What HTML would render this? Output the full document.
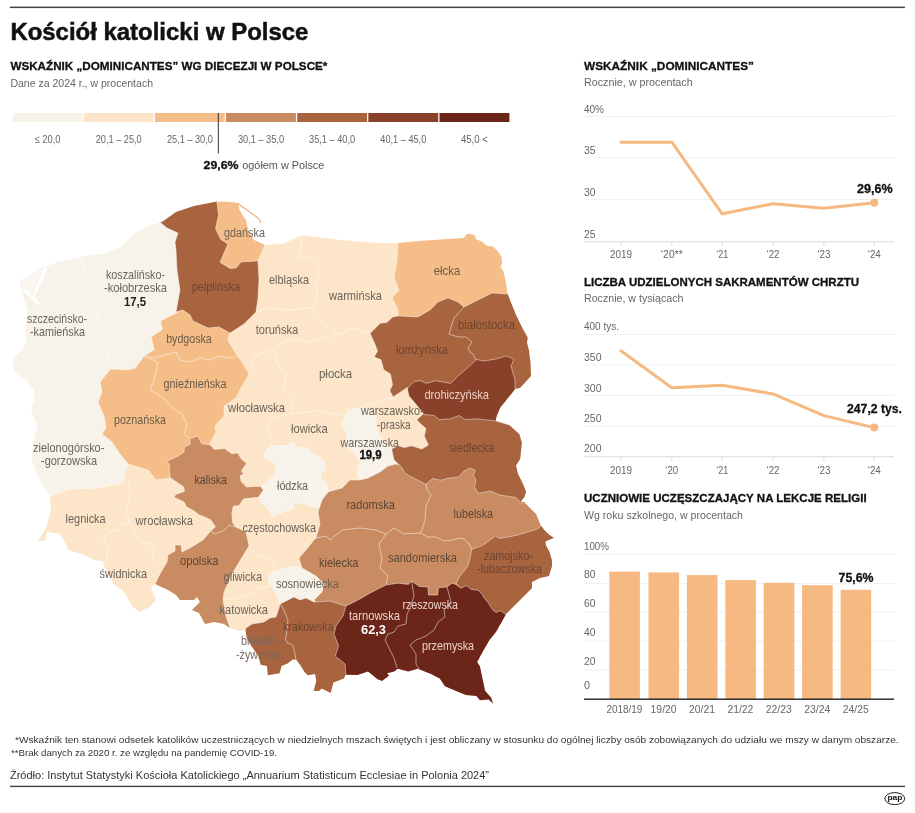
<!DOCTYPE html>
<html lang="pl"><head><meta charset="utf-8"><title>Kościół katolicki w Polsce</title>
<style>html,body{margin:0;padding:0;background:#fff}svg{display:block}text{font-family:"Liberation Sans",sans-serif}.b{font-weight:bold}</style>
</head><body>
<svg width="915" height="813" viewBox="0 0 915 813">
<rect width="915" height="813" fill="#fff"/>
<rect x="10" y="6.6" width="895" height="1.5" fill="#444"/>
<text x="10.4" y="40.2" font-size="23.4" fill="#111" class="b" stroke="#111" stroke-width="0.5" textLength="298" lengthAdjust="spacingAndGlyphs">Kościół katolicki w Polsce</text>
<text x="10.4" y="70" font-size="11.8" fill="#111" class="b" stroke="#111" stroke-width="0.3" textLength="317" lengthAdjust="spacingAndGlyphs">WSKAŹNIK „DOMINICANTES” WG DIECEZJI W POLSCE*</text>
<text x="10.4" y="86.8" font-size="11.3" fill="#666" textLength="142.6" lengthAdjust="spacingAndGlyphs">Dane za 2024 r., w procentach</text>
<rect x="12.6" y="113" width="69.9" height="9" fill="#f7f3ea"/>
<text x="47.6" y="143" font-size="11" fill="#666" text-anchor="middle" textLength="26" lengthAdjust="spacingAndGlyphs">≤ 20,0</text>
<rect x="83.7" y="113" width="69.9" height="9" fill="#fde5c9"/>
<text x="118.7" y="143" font-size="11" fill="#666" text-anchor="middle" textLength="46" lengthAdjust="spacingAndGlyphs">20,1 – 25,0</text>
<rect x="154.9" y="113" width="69.9" height="9" fill="#f5be88"/>
<text x="189.9" y="143" font-size="11" fill="#666" text-anchor="middle" textLength="46" lengthAdjust="spacingAndGlyphs">25,1 – 30,0</text>
<rect x="226.0" y="113" width="69.9" height="9" fill="#c98b61"/>
<text x="261.0" y="143" font-size="11" fill="#666" text-anchor="middle" textLength="46" lengthAdjust="spacingAndGlyphs">30,1 – 35,0</text>
<rect x="297.2" y="113" width="69.9" height="9" fill="#a8633f"/>
<text x="332.1" y="143" font-size="11" fill="#666" text-anchor="middle" textLength="46" lengthAdjust="spacingAndGlyphs">35,1 – 40,0</text>
<rect x="368.3" y="113" width="69.9" height="9" fill="#8a412a"/>
<text x="403.3" y="143" font-size="11" fill="#666" text-anchor="middle" textLength="46" lengthAdjust="spacingAndGlyphs">40,1 – 45,0</text>
<rect x="439.5" y="113" width="69.9" height="9" fill="#6b2619"/>
<text x="474.4" y="143" font-size="11" fill="#666" text-anchor="middle" textLength="27" lengthAdjust="spacingAndGlyphs">45,0 &lt;</text>
<rect x="217.8" y="113" width="1" height="40.5" fill="#333"/>
<text x="203.6" y="168.8" font-size="11.8" fill="#111" class="b" stroke="#111" stroke-width="0.3" textLength="35" lengthAdjust="spacingAndGlyphs">29,6%</text>
<text x="242.3" y="168.8" font-size="11.5" fill="#555" textLength="82" lengthAdjust="spacingAndGlyphs">ogółem w Polsce</text>
<defs><clipPath id="pl"><polygon points="20,281 28,276 38,270 58,262 82,257 104,254 120,248 132,236 146,227 162,222 176,212 194,206 216,201.8 228,201.8 238,203 239.4,209.4 242,214.7 246,220 248,230 254,240 265,245 284,243.5 293,239.6 302,235.3 340,240 380,243 398,243 420,241 464,238 466,234.7 469.3,233.4 474.6,235.3 476,239.3 482.5,241.9 486.4,245.8 493,246.5 498.2,251.7 501.5,257 502,262.2 500.8,267.5 503.4,271.4 506,283.2 507.5,293.5 510.7,302 516,315 522.5,328.3 527.7,337.5 527,342.7 529,350.6 530.5,363 531,376 520,388 515,389 508,398 500,408 496.5,416.3 495.5,421 509.6,425.3 519.4,434.3 521.9,442.5 520.2,459 516,465.5 517.8,473.7 522.7,483.5 526,491.7 524.3,497 520.5,501.8 524.3,502.3 529.5,507.5 536,514 538.7,520.6 540.7,525.2 544,529.8 549.2,535 553.8,537.7 549.2,539.7 545.2,541.6 545.9,545.6 549.2,551.5 551.8,560 552,566 549,576 540,578 532,582 532,588 520,600 506,614 496,632 489.5,640 483.4,650.5 477.2,661.9 479.9,666.2 482.5,678.5 485.1,690.7 491.2,697.7 493,703.8 488.6,699.4 479.9,700.3 476.4,696 465.9,695 455.4,690.7 444.9,686.3 439.7,678.5 431,674 417.8,668.8 408.2,671.5 397.7,668.8 394.2,671.5 387.2,673.2 389,675.8 382,681 377.6,679.3 368,671.5 357.5,675 345.8,674.6 343.9,678.5 333.4,682.5 330.7,693 321.6,688.4 319,691 313.7,691 316.3,681 315,674 307.8,675.2 304.5,672 300.6,665.4 296,659.5 292.7,659.5 287.5,663.4 281.6,666 279.6,673.3 267.8,675.2 267,666 260.6,664.8 258.6,656.2 252,647 246.8,637.9 245.5,630 240,631 230,628 224,624 214,622 205,624 199,613 192,610 200,602 197,597 194,600 180,600 176,595 168,590 155,584 151,586 153,594 156,600 150,607 139,612 132,606 124,592 114,584 104,566 103,561 94,560 82,554 68,550 66,544 60,534 47,532 45,541 38,541 46,528 51,510 50,496 40,481 36,470 32,460 34,440 38,424 35,420 31.5,410 34,401 35,391 26,380 15,371 12.5,359 23,349 27,340 26,330 28,310 23,294"/></clipPath></defs>
<g clip-path="url(#pl)">
<rect x="0" y="190" width="570" height="530" fill="#fde5c9"/>
<polygon points="0,200 200,200 200,330 170,345 150,400 150,440 128,464 124,474 124,482 100,488 70,489 50,496 0,500" fill="#f7f3ea" stroke="#fff" stroke-width="1" stroke-opacity="0.45"/>
<polygon points="263.3,456.6 266.6,448.8 272.1,445.5 286.5,445.5 292.1,442.2 298.7,447.7 307.6,447.7 310.9,453.3 318.7,455.9 324.2,461 325.3,467.7 320.9,474.3 320.9,478.7 326.4,484.3 328.6,490.9 335,497 322,499 318.7,507.5 312,506.4 300.9,503.1 294.3,502 293.2,508.6 284.3,512 275.5,514.2 272.1,517.5 271,512 265.5,506.4 260,500.9 258.9,497.6 263.3,489.8 261,486.5 266.6,482 273.3,476.5 275.5,471 276,464.3 270,461" fill="#f7f3ea" stroke="#fff" stroke-width="1" stroke-opacity="0.45"/>
<polygon points="348,410 360,408 370,410 376,416 376,428 380,436 388,446 392,449 400,455 400,470 380,480 368,478 360,480 357,472 360,462 354,452 346,446 347,434 342,424 346,414" fill="#f7f3ea" stroke="#fff" stroke-width="1" stroke-opacity="0.45"/>
<polygon points="268,576 272,572 278,570 286,568 294,566 302,568 316,576 330,580 330,610 280,612 280,604 276,594 270,584" fill="#f7f3ea" stroke="#fff" stroke-width="1" stroke-opacity="0.45"/>
<polygon points="210,195 270,195 265,245 261,254 258,261 250,275 210,275" fill="#f5be88" stroke="#fff" stroke-width="1" stroke-opacity="0.45"/>
<polygon points="200,300 178,312 160.6,321 162.3,329.7 151,336.7 154.4,349.8 144,356 135.2,368.2 128,370 110.7,369 100,382 102,392 98,402 104,416 106,428 102,434 112,442 120,454 128,464 148,470 156,480 170,478 190,470 205,455 210,443 216,432 215,426 224,416 224,406 236,398 240,390 249,374 242,362 236,354 228,340 230,333 235,320" fill="#f5be88" stroke="#fff" stroke-width="1" stroke-opacity="0.45"/>
<polygon points="398,225 520,225 520,320 398,320 398,316 398,310 392,298 399,290 394,278 397,260 398,243" fill="#f5be88" stroke="#fff" stroke-width="1" stroke-opacity="0.45"/>
<polygon points="189.7,439 197.8,436 201.5,443.5 210.4,445 214,449.4 224.4,448.6 231.8,453.8 237.7,453 241.3,459 246.5,463.4 241.3,470.8 243.6,473.7 239.9,476 241.3,481.8 246.5,487 260.5,486.3 263.5,490 258.3,497.3 243.6,498.8 239.1,505.4 233.2,506.2 231.8,513.6 232.5,522.4 235.4,526.8 246,532 249,546 244,554 232,574 224,592 223,600 226,616 230,628 230,645 165,645 165,600 155,584 160,574 167,562 168,555 175,551 175,545 181,545 182,552 190,548 203,540 210.4,531.3 215.5,526.8 210.4,519.5 203.7,516.5 199.3,515 193.4,510.6 186.7,507 183.8,501.8 174.2,497.3 175.7,494.4 184.5,491.4 183.8,487 170.5,478 169,469.3 169.8,464.9 166.8,461.2 177,456.7 183.8,452.3 184.5,447 190.4,444.2" fill="#c98b61" stroke="#fff" stroke-width="1" stroke-opacity="0.45"/>
<polygon points="322,500 328,492 342,488 350,480 360,480 368,478 380,472 388,466 396,464 400,465 405,455 500,455 560,500 560,560 480,620 330,620 314,600 322,592 324,584 316,576 302,568 299,558 306,550 314,540 316,538 320,524 318,512" fill="#c98b61" stroke="#fff" stroke-width="1" stroke-opacity="0.45"/>
<polygon points="155,218 176,205 216,195 218.6,215 215.5,228.7 220.9,239.4 227.8,244 224.7,251.6 220,262.3 230,268.4 236,268 241,262 258,261 259,280 258,298 256,312 244,324 230,333 219,327 208,328 193,321 190,315 183,310 176,312 180,290 177,270 176,250 175,242 178,233 167,228" fill="#a8633f" stroke="#fff" stroke-width="1" stroke-opacity="0.45"/>
<polygon points="398,316 418,317 430,310 438,302 448,298 458,302 464,307 474,302 480,299 492,293 508,294 545,300 545,395 515,395 440,400 407.4,387.4 393.2,396.9 389.8,390.8 392.5,384.7 390.4,373.9 383.7,369.8 381,359.7 374.2,357 377.6,350.9 374.9,344.1 370.1,333.3 380.3,323.2 387,322.5 392.5,317" fill="#a8633f" stroke="#fff" stroke-width="1" stroke-opacity="0.45"/>
<polygon points="417,419.6 430,408 500,408 545,420 545,502 521,503.2 516,497.5 499.8,495 490,491 478.4,493.4 474.3,486.8 476,480.2 473.5,475.3 475.2,470.4 470.2,468 463.7,471.2 458.8,477 450.6,477.8 440.7,480.2 432.5,478.6 426,484.3 417.8,480.2 409.6,476 404.7,472.9 401.4,467 397.3,463 394,459.8 391.6,449 398,445.8 404.7,447.5 411.2,445.8 421.9,449 428.4,445 424.3,436 426,428.6 418.6,422" fill="#a8633f" stroke="#fff" stroke-width="1" stroke-opacity="0.45"/>
<polygon points="472,549 482.3,545.6 490,540.3 495.4,535.9 499.3,538.4 508.5,537 517.7,535 528.2,531.8 537.4,529 540.7,526 565,525 565,590 520,615 500,625 470,600 456,583 460,576 468,566 470,558" fill="#a8633f" stroke="#fff" stroke-width="1" stroke-opacity="0.45"/>
<polygon points="246,628 252,624 264,622 270,618 276,617 279,608 280,604 294,597 300,600 306,598 314,602 330,601 346,606 358,610 358,700 238,700 238,640 244,632" fill="#a8633f" stroke="#fff" stroke-width="1" stroke-opacity="0.45"/>
<polygon points="407.4,388.5 414.1,381.3 420.9,380.7 426.3,383.4 435.8,380.7 450.7,383.4 457.4,376.6 468.3,367.1 476.4,359.5 484,361 496,359 506,356 514,359 511,366 515,380 515,389 520,395 510,425 495.5,421 476.8,418.8 465.3,419.6 458.8,415.5 450.6,418.8 439,419.6 434.2,415.5 424,414.5 417.8,406.5 409,396" fill="#8a412a" stroke="#fff" stroke-width="1" stroke-opacity="0.45"/>
<polygon points="346,606 358,600 372,592 386,585 398.4,583.2 408.5,584.4 411.5,581 419.3,586.4 428,587 428.5,595 437.7,595 438.4,587.7 447,587 452,583.2 456,584.5 461,588.2 466.2,585.6 471.5,589.5 478,590.2 482,594 483.3,596.7 488.5,603.3 492.5,609.8 496.4,612.5 500.3,610.5 505.6,614.4 525,618 505,715 340,695 345.8,674.6 345.2,664 335.3,656.2 338.6,645.7 334,634 336,626 343,616" fill="#6b2619" stroke="#fff" stroke-width="1" stroke-opacity="0.45"/>
<polyline points="82,257 85,274 92,286 100,302 96,318 100,331 108,335 110,349 107,363 110,369" fill="none" stroke="#fff" stroke-width="1" stroke-opacity="0.5"/>
<polyline points="34,388 45,379 49,371 68,364 73,358 89,355 107,361" fill="none" stroke="#fff" stroke-width="1" stroke-opacity="0.5"/>
<polyline points="302,236 300,258 314,258 320,270 316,284 318,298 312,308" fill="none" stroke="#fff" stroke-width="1" stroke-opacity="0.5"/>
<polyline points="256,312 270,308 290,310 312,308" fill="none" stroke="#fff" stroke-width="1" stroke-opacity="0.5"/>
<polyline points="312,308 318,316 324,324 338,334 354,328 370,333" fill="none" stroke="#fff" stroke-width="1" stroke-opacity="0.5"/>
<polyline points="338,334 310,342 296,339 284,341 273,350 256,356 249,372" fill="none" stroke="#fff" stroke-width="1" stroke-opacity="0.5"/>
<polyline points="273,350 278,366 286,374 284,390 294,400 290,414 272,418 268,428 272,440 272,446" fill="none" stroke="#fff" stroke-width="1" stroke-opacity="0.5"/>
<polyline points="290,414 310,412 320,410 332,414 346,414" fill="none" stroke="#fff" stroke-width="1" stroke-opacity="0.5"/>
<polyline points="394,397 376,402 360,408" fill="none" stroke="#fff" stroke-width="1" stroke-opacity="0.5"/>
<polyline points="128,482 130,494 126,510 130,522 122,524 118,530 108,532 103,540 108,550 106,562" fill="none" stroke="#fff" stroke-width="1" stroke-opacity="0.5"/>
<polyline points="130,522 136,536 140,542 150,544 154,550 152,558 160,564" fill="none" stroke="#fff" stroke-width="1" stroke-opacity="0.5"/>
<polyline points="249,548 256,554 266,558 274,562 274,570" fill="none" stroke="#fff" stroke-width="1" stroke-opacity="0.5"/>
<polyline points="223,600 238,598 254,592 260,588 270,586" fill="none" stroke="#fff" stroke-width="1" stroke-opacity="0.5"/>
<polyline points="210.4,531.3 215.5,534.2 219.9,532 224.4,530.5 228.8,525.4 235.4,526.8" fill="none" stroke="#fff" stroke-width="1" stroke-opacity="0.5"/>
<polyline points="144,356 154,358 176,352 180,360 190,362 200,358 210,360 218,356 230,358 238,356" fill="none" stroke="#fff" stroke-width="1" stroke-opacity="0.5"/>
<polyline points="144,356 158,362 154,380 150,390 164,398 172,408 182,414 187,424 184,434 190,438" fill="none" stroke="#fff" stroke-width="1" stroke-opacity="0.5"/>
<polyline points="464,307 454,318 449,334 458,337 466,337 472,342 468,348 470,352 473,354 476,360" fill="none" stroke="#fff" stroke-width="1" stroke-opacity="0.5"/>
<polyline points="316,538 326,536 330,540 342,530 360,528 376,530 386,534" fill="none" stroke="#fff" stroke-width="1" stroke-opacity="0.5"/>
<polyline points="426,484.3 427,490 431,495 426,506 425,520 422,530 420,533" fill="none" stroke="#fff" stroke-width="1" stroke-opacity="0.5"/>
<polyline points="386,534 394,528 404,534 420,533 428,537 436,537 444,541 452,540 460,538 464,539 468,543 472,549" fill="none" stroke="#fff" stroke-width="1" stroke-opacity="0.5"/>
<polyline points="386,534 379,544 382,560 380,568 388,576 386,584" fill="none" stroke="#fff" stroke-width="1" stroke-opacity="0.5"/>
<polyline points="280,604 282,606 288,620 286.8,632 285.5,639.2 287.5,643 292.7,645 294.7,652.3 296,659.5" fill="none" stroke="#fff" stroke-width="1" stroke-opacity="0.5"/>
<polyline points="411.5,581 414,596 410,608 407,614 406,624 398,626 394,632 388,634 385,640 390,650 394,658 397,668" fill="none" stroke="#fff" stroke-width="1" stroke-opacity="0.5"/>
<polyline points="447,587 451,602 444,610 445,617 438,622 434,630 426,636 416,640 410,645 416,654 416,664 419,669" fill="none" stroke="#fff" stroke-width="1" stroke-opacity="0.5"/>
</g>
<polyline points="46,268 40,281 34,295" fill="none" stroke="#fff" stroke-width="3"/>
<polyline points="24,290 32,297 39,304" fill="none" stroke="#fff" stroke-width="3"/>
<polygon points="20,281 28,276 38,270 45,268 36,284 31,294 25,289" fill="#fff" fill-opacity="0.35"/>
<polyline points="238,203.6 247,210 256,216.6 259.5,219.6 260.5,222.5" fill="none" stroke="#eeb47f" stroke-width="1.3" stroke-linecap="round"/>
<text x="135.5" y="278.7" font-size="12.2" fill="#6b6459" text-anchor="middle" textLength="59" lengthAdjust="spacingAndGlyphs">koszalińsko-</text>
<text x="135.5" y="292.3" font-size="12.2" fill="#6b6459" text-anchor="middle" textLength="63" lengthAdjust="spacingAndGlyphs">-kołobrzeska</text>
<text x="135" y="306.3" font-size="12.2" fill="#222" class="b" text-anchor="middle" textLength="22" lengthAdjust="spacingAndGlyphs">17,5</text>
<text x="57" y="322.7" font-size="12.2" fill="#6b6459" text-anchor="middle" textLength="60" lengthAdjust="spacingAndGlyphs">szczecińsko-</text>
<text x="57.5" y="336.3" font-size="12.2" fill="#6b6459" text-anchor="middle" textLength="55" lengthAdjust="spacingAndGlyphs">-kamieńska</text>
<text x="244.5" y="236.7" font-size="12.2" fill="#6b6459" text-anchor="middle" textLength="41" lengthAdjust="spacingAndGlyphs">gdańska</text>
<text x="216" y="290.7" font-size="12.2" fill="#6e4631" text-anchor="middle" textLength="48.4" lengthAdjust="spacingAndGlyphs">pelplińska</text>
<text x="289" y="284.3" font-size="12.2" fill="#6b6459" text-anchor="middle" textLength="40" lengthAdjust="spacingAndGlyphs">elbląska</text>
<text x="277" y="334.3" font-size="12.2" fill="#6b6459" text-anchor="middle" textLength="42.4" lengthAdjust="spacingAndGlyphs">toruńska</text>
<text x="189" y="342.7" font-size="12.2" fill="#6b5a48" text-anchor="middle" textLength="45.6" lengthAdjust="spacingAndGlyphs">bydgoska</text>
<text x="355.5" y="299.7" font-size="12.2" fill="#6b6459" text-anchor="middle" textLength="53" lengthAdjust="spacingAndGlyphs">warmińska</text>
<text x="447" y="275.3" font-size="12.2" fill="#6b5a48" text-anchor="middle" textLength="26.4" lengthAdjust="spacingAndGlyphs">ełcka</text>
<text x="486.5" y="328.7" font-size="12.2" fill="#6e4631" text-anchor="middle" textLength="57" lengthAdjust="spacingAndGlyphs">białostocka</text>
<text x="140" y="423.7" font-size="12.2" fill="#6b5a48" text-anchor="middle" textLength="52" lengthAdjust="spacingAndGlyphs">poznańska</text>
<text x="68.7" y="451.7" font-size="12.2" fill="#6b6459" text-anchor="middle" textLength="71.4" lengthAdjust="spacingAndGlyphs">zielonogórsko-</text>
<text x="69" y="465.1" font-size="12.2" fill="#6b6459" text-anchor="middle" textLength="56" lengthAdjust="spacingAndGlyphs">-gorzowska</text>
<text x="195" y="387.7" font-size="12.2" fill="#6b5a48" text-anchor="middle" textLength="63" lengthAdjust="spacingAndGlyphs">gnieźnieńska</text>
<text x="256.5" y="412.3" font-size="12.2" fill="#6b6459" text-anchor="middle" textLength="57" lengthAdjust="spacingAndGlyphs">włocławska</text>
<text x="309.3" y="433.3" font-size="12.2" fill="#6b6459" text-anchor="middle" textLength="36.6" lengthAdjust="spacingAndGlyphs">łowicka</text>
<text x="210.7" y="483.7" font-size="12.2" fill="#5e4534" text-anchor="middle" textLength="32.6" lengthAdjust="spacingAndGlyphs">kaliska</text>
<text x="292.5" y="489.7" font-size="12.2" fill="#6b6459" text-anchor="middle" textLength="31" lengthAdjust="spacingAndGlyphs">łódzka</text>
<text x="335.5" y="378.3" font-size="12.2" fill="#6b6459" text-anchor="middle" textLength="33" lengthAdjust="spacingAndGlyphs">płocka</text>
<text x="422" y="354.3" font-size="12.2" fill="#6e4631" text-anchor="middle" textLength="52" lengthAdjust="spacingAndGlyphs">łomżyńska</text>
<text x="456.7" y="398.7" font-size="12.2" fill="#e8cfc3" text-anchor="middle" textLength="64.6" lengthAdjust="spacingAndGlyphs">drohiczyńska</text>
<text x="392.3" y="415.3" font-size="12.2" fill="#6b6459" text-anchor="middle" textLength="62.6" lengthAdjust="spacingAndGlyphs">warszawsko-</text>
<text x="393.8" y="428.7" font-size="12.2" fill="#6b6459" text-anchor="middle" textLength="33.6" lengthAdjust="spacingAndGlyphs">-praska</text>
<text x="369.8" y="446.7" font-size="12.2" fill="#6b6459" text-anchor="middle" textLength="58.4" lengthAdjust="spacingAndGlyphs">warszawska</text>
<text x="370.5" y="458.7" font-size="12.2" fill="#111" class="b" stroke="#111" stroke-width="0.3" text-anchor="middle" textLength="22.2" lengthAdjust="spacingAndGlyphs">19,9</text>
<text x="471.7" y="452.1" font-size="12.2" fill="#6e4631" text-anchor="middle" textLength="45.4" lengthAdjust="spacingAndGlyphs">siedlecka</text>
<text x="85.6" y="522.7" font-size="12.2" fill="#6b6459" text-anchor="middle" textLength="40" lengthAdjust="spacingAndGlyphs">legnicka</text>
<text x="164.3" y="525.1" font-size="12.2" fill="#6b6459" text-anchor="middle" textLength="57.4" lengthAdjust="spacingAndGlyphs">wrocławska</text>
<text x="123.3" y="577.7" font-size="12.2" fill="#6b6459" text-anchor="middle" textLength="47.4" lengthAdjust="spacingAndGlyphs">świdnicka</text>
<text x="199.3" y="564.7" font-size="12.2" fill="#5e4534" text-anchor="middle" textLength="38.6" lengthAdjust="spacingAndGlyphs">opolska</text>
<text x="279.2" y="531.7" font-size="12.2" fill="#6b6459" text-anchor="middle" textLength="73.6" lengthAdjust="spacingAndGlyphs">częstochowska</text>
<text x="242.8" y="580.7" font-size="12.2" fill="#6b6459" text-anchor="middle" textLength="38.4" lengthAdjust="spacingAndGlyphs">gliwicka</text>
<text x="243.8" y="614.3" font-size="12.2" fill="#6b6459" text-anchor="middle" textLength="48.4" lengthAdjust="spacingAndGlyphs">katowicka</text>
<text x="307.5" y="588.3" font-size="12.2" fill="#6b6459" text-anchor="middle" textLength="63" lengthAdjust="spacingAndGlyphs">sosnowiecka</text>
<text x="370.7" y="508.7" font-size="12.2" fill="#5e4534" text-anchor="middle" textLength="48.6" lengthAdjust="spacingAndGlyphs">radomska</text>
<text x="338.7" y="567.1" font-size="12.2" fill="#5e4534" text-anchor="middle" textLength="39.4" lengthAdjust="spacingAndGlyphs">kielecka</text>
<text x="422.5" y="561.7" font-size="12.2" fill="#5e4534" text-anchor="middle" textLength="69" lengthAdjust="spacingAndGlyphs">sandomierska</text>
<text x="473.3" y="518.3" font-size="12.2" fill="#5e4534" text-anchor="middle" textLength="39.4" lengthAdjust="spacingAndGlyphs">lubelska</text>
<text x="508.5" y="559.7" font-size="12.2" fill="#6e4631" text-anchor="middle" textLength="49" lengthAdjust="spacingAndGlyphs">zamojsko-</text>
<text x="509.5" y="572.7" font-size="12.2" fill="#6e4631" text-anchor="middle" textLength="65" lengthAdjust="spacingAndGlyphs">-lubaczowska</text>
<text x="430.2" y="609.1" font-size="12.2" fill="#ecd3c8" text-anchor="middle" textLength="55.6" lengthAdjust="spacingAndGlyphs">rzeszowska</text>
<text x="374.5" y="619.7" font-size="12.2" fill="#ecd3c8" text-anchor="middle" textLength="51" lengthAdjust="spacingAndGlyphs">tarnowska</text>
<text x="373.5" y="633.7" font-size="12.2" fill="#fff" class="b" text-anchor="middle" textLength="25" lengthAdjust="spacingAndGlyphs">62,3</text>
<text x="448" y="649.7" font-size="12.2" fill="#ecd3c8" text-anchor="middle" textLength="52" lengthAdjust="spacingAndGlyphs">przemyska</text>
<text x="308.3" y="631.1" font-size="12.2" fill="#6e4631" text-anchor="middle" textLength="50.6" lengthAdjust="spacingAndGlyphs">krakowska</text>
<text x="259.8" y="644.7" font-size="12.2" fill="#7b6a60" text-anchor="middle" textLength="37.6" lengthAdjust="spacingAndGlyphs">bielsko-</text>
<text x="259.5" y="658.7" font-size="12.2" fill="#7b6a60" text-anchor="middle" textLength="47" lengthAdjust="spacingAndGlyphs">-żywiecka</text>
<text x="584" y="70" font-size="11.8" fill="#111" class="b" stroke="#111" stroke-width="0.3" textLength="170" lengthAdjust="spacingAndGlyphs">WSKAŹNIK „DOMINICANTES”</text>
<text x="584" y="86.4" font-size="11.3" fill="#666" textLength="108.7" lengthAdjust="spacingAndGlyphs">Rocznie, w procentach</text>
<rect x="584" y="115.9" width="310" height="1" fill="#eef1f4"/>
<rect x="584" y="157.1" width="310" height="1" fill="#eef1f4"/>
<rect x="584" y="199.0" width="310" height="1" fill="#eef1f4"/>
<rect x="584" y="241.3" width="310" height="1" fill="#d6dce1"/>
<text x="584" y="112.5" font-size="10" fill="#666" textLength="20" lengthAdjust="spacingAndGlyphs">40%</text>
<text x="584" y="154.0" font-size="10" fill="#666" textLength="11.5" lengthAdjust="spacingAndGlyphs">35</text>
<text x="584" y="196.0" font-size="10" fill="#666" textLength="11.5" lengthAdjust="spacingAndGlyphs">30</text>
<text x="584" y="237.5" font-size="10" fill="#666" textLength="11.5" lengthAdjust="spacingAndGlyphs">25</text>
<rect x="620.4" y="241.8" width="1" height="4" fill="#d6dce1"/>
<text x="620.9" y="257.6" font-size="10" fill="#666" text-anchor="middle" textLength="22" lengthAdjust="spacingAndGlyphs">2019</text>
<rect x="671.3" y="241.8" width="1" height="4" fill="#d6dce1"/>
<text x="671.8" y="257.6" font-size="10" fill="#666" text-anchor="middle" textLength="22" lengthAdjust="spacingAndGlyphs">‘20**</text>
<rect x="721.7" y="241.8" width="1" height="4" fill="#d6dce1"/>
<text x="722.2" y="257.6" font-size="10" fill="#666" text-anchor="middle" textLength="12" lengthAdjust="spacingAndGlyphs">‘21</text>
<rect x="772.5" y="241.8" width="1" height="4" fill="#d6dce1"/>
<text x="773" y="257.6" font-size="10" fill="#666" text-anchor="middle" textLength="13" lengthAdjust="spacingAndGlyphs">‘22</text>
<rect x="823.4" y="241.8" width="1" height="4" fill="#d6dce1"/>
<text x="823.9" y="257.6" font-size="10" fill="#666" text-anchor="middle" textLength="13" lengthAdjust="spacingAndGlyphs">‘23</text>
<rect x="873.8" y="241.8" width="1" height="4" fill="#d6dce1"/>
<text x="874.3" y="257.6" font-size="10" fill="#666" text-anchor="middle" textLength="13" lengthAdjust="spacingAndGlyphs">‘24</text>
<polyline points="620.9,142.2 671.8,142.2 722.2,213.8 773,203.8 823.9,208.2 874.3,202.8" fill="none" stroke="#f5b981" stroke-width="3" stroke-linejoin="round" stroke-linecap="round"/>
<circle cx="874.3" cy="202.8" r="4" fill="#f5b981"/>
<text x="857" y="193.3" font-size="13" fill="#111" class="b" stroke="#111" stroke-width="0.3" textLength="35.6" lengthAdjust="spacingAndGlyphs">29,6%</text>
<text x="584" y="285.6" font-size="11.8" fill="#111" class="b" stroke="#111" stroke-width="0.3" textLength="275" lengthAdjust="spacingAndGlyphs">LICZBA UDZIELONYCH SAKRAMENTÓW CHRZTU</text>
<text x="584" y="301.8" font-size="11.3" fill="#666" textLength="99.4" lengthAdjust="spacingAndGlyphs">Rocznie, w tysiącach</text>
<rect x="584" y="334.0" width="310" height="1" fill="#eef1f4"/>
<rect x="584" y="364.3" width="310" height="1" fill="#eef1f4"/>
<rect x="584" y="394.9" width="310" height="1" fill="#eef1f4"/>
<rect x="584" y="425.6" width="310" height="1" fill="#eef1f4"/>
<rect x="584" y="456.2" width="310" height="1" fill="#d6dce1"/>
<text x="584" y="329.5" font-size="10" fill="#666" textLength="35" lengthAdjust="spacingAndGlyphs">400 tys.</text>
<text x="584" y="361.0" font-size="10" fill="#666" textLength="17.5" lengthAdjust="spacingAndGlyphs">350</text>
<text x="584" y="391.6" font-size="10" fill="#666" textLength="17.5" lengthAdjust="spacingAndGlyphs">300</text>
<text x="584" y="422.3" font-size="10" fill="#666" textLength="17.5" lengthAdjust="spacingAndGlyphs">250</text>
<text x="584" y="452.3" font-size="10" fill="#666" textLength="17.5" lengthAdjust="spacingAndGlyphs">200</text>
<rect x="620.4" y="456.7" width="1" height="4" fill="#d6dce1"/>
<text x="620.9" y="473.6" font-size="10" fill="#666" text-anchor="middle" textLength="22" lengthAdjust="spacingAndGlyphs">2019</text>
<rect x="671.3" y="456.7" width="1" height="4" fill="#d6dce1"/>
<text x="671.8" y="473.6" font-size="10" fill="#666" text-anchor="middle" textLength="13" lengthAdjust="spacingAndGlyphs">‘20</text>
<rect x="721.7" y="456.7" width="1" height="4" fill="#d6dce1"/>
<text x="722.2" y="473.6" font-size="10" fill="#666" text-anchor="middle" textLength="12" lengthAdjust="spacingAndGlyphs">‘21</text>
<rect x="772.5" y="456.7" width="1" height="4" fill="#d6dce1"/>
<text x="773" y="473.6" font-size="10" fill="#666" text-anchor="middle" textLength="13" lengthAdjust="spacingAndGlyphs">‘22</text>
<rect x="823.4" y="456.7" width="1" height="4" fill="#d6dce1"/>
<text x="823.9" y="473.6" font-size="10" fill="#666" text-anchor="middle" textLength="13" lengthAdjust="spacingAndGlyphs">‘23</text>
<rect x="873.8" y="456.7" width="1" height="4" fill="#d6dce1"/>
<text x="874.3" y="473.6" font-size="10" fill="#666" text-anchor="middle" textLength="13" lengthAdjust="spacingAndGlyphs">‘24</text>
<polyline points="620.9,350.8 671.8,387.7 722.2,385.3 773,393.9 823.9,415.6 874.3,427.6" fill="none" stroke="#f5b981" stroke-width="3" stroke-linejoin="round" stroke-linecap="round"/>
<circle cx="874.3" cy="427.6" r="4" fill="#f5b981"/>
<text x="847" y="413.3" font-size="13" fill="#111" class="b" stroke="#111" stroke-width="0.3" textLength="55" lengthAdjust="spacingAndGlyphs">247,2 tys.</text>
<text x="584" y="502.4" font-size="11.8" fill="#111" class="b" stroke="#111" stroke-width="0.3" textLength="282.6" lengthAdjust="spacingAndGlyphs">UCZNIOWIE UCZĘSZCZAJĄCY NA LEKCJE RELIGII</text>
<text x="584" y="519" font-size="11.3" fill="#666" textLength="159" lengthAdjust="spacingAndGlyphs">Wg roku szkolnego, w procentach</text>
<rect x="584" y="554.0" width="310" height="1" fill="#eef1f4"/>
<rect x="584" y="583.1" width="310" height="1" fill="#eef1f4"/>
<rect x="584" y="611.8" width="310" height="1" fill="#eef1f4"/>
<rect x="584" y="640.5" width="310" height="1" fill="#eef1f4"/>
<rect x="584" y="669.6" width="310" height="1" fill="#eef1f4"/>
<text x="584" y="549.5" font-size="10" fill="#666" textLength="25" lengthAdjust="spacingAndGlyphs">100%</text>
<text x="584" y="578.0" font-size="10" fill="#666" textLength="11.5" lengthAdjust="spacingAndGlyphs">80</text>
<text x="584" y="607.0" font-size="10" fill="#666" textLength="11.5" lengthAdjust="spacingAndGlyphs">60</text>
<text x="584" y="636.3" font-size="10" fill="#666" textLength="11.5" lengthAdjust="spacingAndGlyphs">40</text>
<text x="584" y="665.4" font-size="10" fill="#666" textLength="11.5" lengthAdjust="spacingAndGlyphs">20</text>
<text x="584" y="688.7" font-size="10" fill="#666" textLength="6" lengthAdjust="spacingAndGlyphs">0</text>
<rect x="609.3" y="571.6" width="30.6" height="127.6" fill="#f5b981"/>
<text x="624.4" y="712.8" font-size="10" fill="#666" text-anchor="middle" textLength="36" lengthAdjust="spacingAndGlyphs">2018/19</text>
<rect x="648.5" y="572.4" width="30.6" height="126.8" fill="#f5b981"/>
<text x="663.6" y="712.8" font-size="10" fill="#666" text-anchor="middle" textLength="26" lengthAdjust="spacingAndGlyphs">19/20</text>
<rect x="686.9" y="575.1" width="30.6" height="124.1" fill="#f5b981"/>
<text x="702.0" y="712.8" font-size="10" fill="#666" text-anchor="middle" textLength="26" lengthAdjust="spacingAndGlyphs">20/21</text>
<rect x="725.3" y="580.1" width="30.6" height="119.1" fill="#f5b981"/>
<text x="740.4" y="712.8" font-size="10" fill="#666" text-anchor="middle" textLength="26" lengthAdjust="spacingAndGlyphs">21/22</text>
<rect x="763.7" y="582.8" width="30.6" height="116.4" fill="#f5b981"/>
<text x="778.8" y="712.8" font-size="10" fill="#666" text-anchor="middle" textLength="26" lengthAdjust="spacingAndGlyphs">22/23</text>
<rect x="802.1" y="585.2" width="30.6" height="114.0" fill="#f5b981"/>
<text x="817.2" y="712.8" font-size="10" fill="#666" text-anchor="middle" textLength="26" lengthAdjust="spacingAndGlyphs">23/24</text>
<rect x="840.6" y="589.8" width="30.6" height="109.4" fill="#f5b981"/>
<text x="855.7" y="712.8" font-size="10" fill="#666" text-anchor="middle" textLength="26" lengthAdjust="spacingAndGlyphs">24/25</text>
<rect x="584" y="698.5" width="310" height="1.4" fill="#222"/>
<text x="838.6" y="581.7" font-size="13" fill="#111" class="b" stroke="#111" stroke-width="0.3" textLength="35" lengthAdjust="spacingAndGlyphs">75,6%</text>
<text x="15" y="742.8" font-size="9.6" fill="#333" textLength="883.6" lengthAdjust="spacingAndGlyphs">*Wskaźnik ten stanowi odsetek katolików uczestniczących w niedzielnych mszach świętych i jest obliczany w stosunku do ogólnej liczby osób zobowiązanych do udziału we mszy w danym obszarze.</text>
<text x="11" y="755.9" font-size="9.6" fill="#333" textLength="266" lengthAdjust="spacingAndGlyphs">**Brak danych za 2020 r. ze względu na pandemię COVID-19.</text>
<text x="10" y="779.3" font-size="10.6" fill="#333" textLength="479" lengthAdjust="spacingAndGlyphs">Źródło: Instytut Statystyki Kościoła Katolickiego „Annuarium Statisticum Ecclesiae in Polonia 2024”</text>
<rect x="10" y="785.7" width="895" height="1.4" fill="#444"/>
<ellipse cx="894.8" cy="798.6" rx="9.9" ry="6" fill="#fff" stroke="#222" stroke-width="1"/>
<text x="894.9" y="800.2" font-size="8" fill="#111" class="b" text-anchor="middle" textLength="15" lengthAdjust="spacingAndGlyphs">pap</text>
</svg>
</body></html>
